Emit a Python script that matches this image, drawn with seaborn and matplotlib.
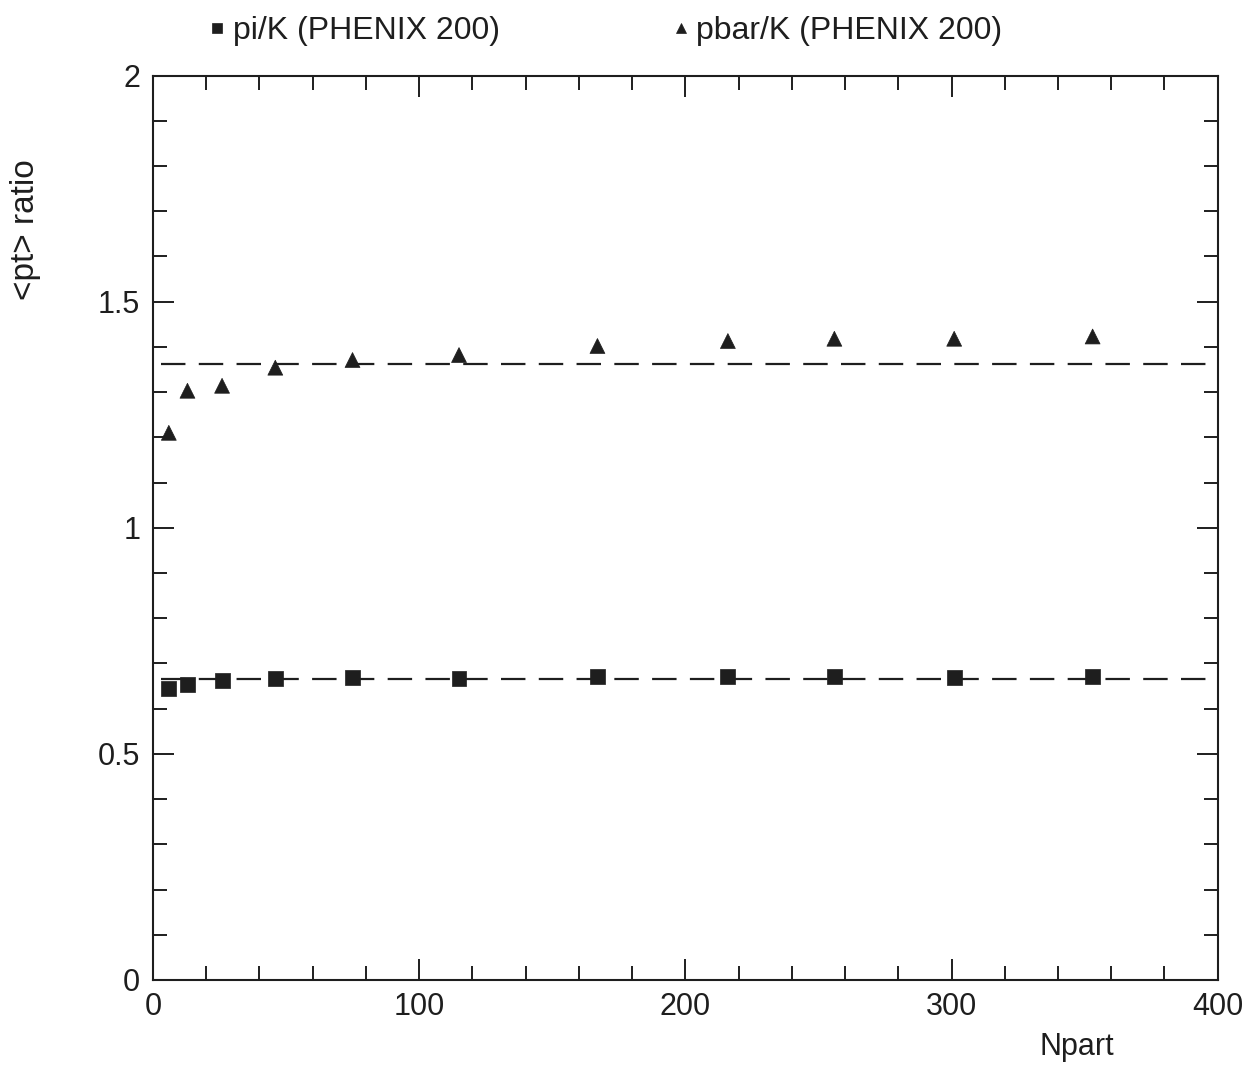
import matplotlib
matplotlib.use("Agg")
import matplotlib.pyplot as plt
from matplotlib.ticker import MultipleLocator
import seaborn as sns
import pandas as pd

# Mean-pT ratios versus number of participants, PHENIX Au+Au 200 GeV
npart = [6, 13, 26, 46, 75, 115, 167, 216, 256, 301, 353]
pi_k_ratio = [0.645, 0.654, 0.662, 0.667, 0.669, 0.667, 0.672, 0.672, 0.671, 0.669, 0.672]
pbar_k_ratio = [1.21, 1.303, 1.314, 1.354, 1.371, 1.382, 1.402, 1.413, 1.418, 1.418, 1.423]

series_labels = ["pi/K (PHENIX 200)", "pbar/K (PHENIX 200)"]
fit_levels = [0.666, 1.363]
fit_range = [3, 397]

sns.set_theme(style="ticks")
plt.rcParams["font.family"] = ["Liberation Sans", "DejaVu Sans"]
ink = "#1e1e1e"
plt.rcParams.update({
    "axes.edgecolor": ink,
    "axes.linewidth": 1.5,
    "xtick.color": ink,
    "ytick.color": ink,
    "text.color": ink,
    "axes.labelcolor": ink,
})

df = pd.DataFrame({
    "Npart": npart * 2,
    "ratio": pi_k_ratio + pbar_k_ratio,
    "series": [series_labels[0]] * len(npart) + [series_labels[1]] * len(npart),
})

fig = plt.figure(figsize=(12.58, 10.69), dpi=100)
ax = fig.add_axes([0.1215, 0.0833, 0.8465, 0.846])

# constant fits
for level in fit_levels:
    ax.plot(fit_range, [level, level], color=ink, lw=1.6, dashes=(11, 6), zorder=1)

sns.scatterplot(
    data=df, x="Npart", y="ratio", style="series",
    markers={series_labels[0]: "s", series_labels[1]: "^"},
    color=ink, edgecolor=ink, linewidth=0.5, s=115, ax=ax, zorder=3,
    legend=True,
)

ax.set_xlim(0, 400)
ax.set_ylim(0, 2)
ax.xaxis.set_major_locator(MultipleLocator(100))
ax.xaxis.set_minor_locator(MultipleLocator(20))
ax.yaxis.set_major_locator(MultipleLocator(0.5))
ax.yaxis.set_minor_locator(MultipleLocator(0.1))
ax.set_xticks([0, 100, 200, 300, 400], ["0", "100", "200", "300", "400"])
ax.set_yticks([0, 0.5, 1, 1.5, 2], ["0", "0.5", "1", "1.5", "2"])
ax.tick_params(which="both", direction="in", top=True, right=True, width=1.4, labelsize=22)
ax.tick_params(which="major", length=15, pad=9)
ax.tick_params(which="minor", length=10)
for side in ["top", "right"]:
    ax.spines[side].set_visible(True)

ax.set_xlabel("Npart", fontsize=22)
ax.xaxis.set_label_coords(0.868, -0.057)
ax.xaxis.label.set_va("top")
ax.set_ylabel("<pt> ratio", fontsize=24)
ax.yaxis.set_label_coords(-0.105, 0.83)

handles, labels = ax.get_legend_handles_labels()
ax.get_legend().remove()
fig.legend(handles, labels, loc="center left", bbox_to_anchor=(0.137, 0.971),
           ncol=2, frameon=False, fontsize=23, markerscale=0.7,
           handletextpad=0.0, columnspacing=5.15, handlelength=1.0)

fig.savefig("out.png", dpi=100, facecolor="white")
